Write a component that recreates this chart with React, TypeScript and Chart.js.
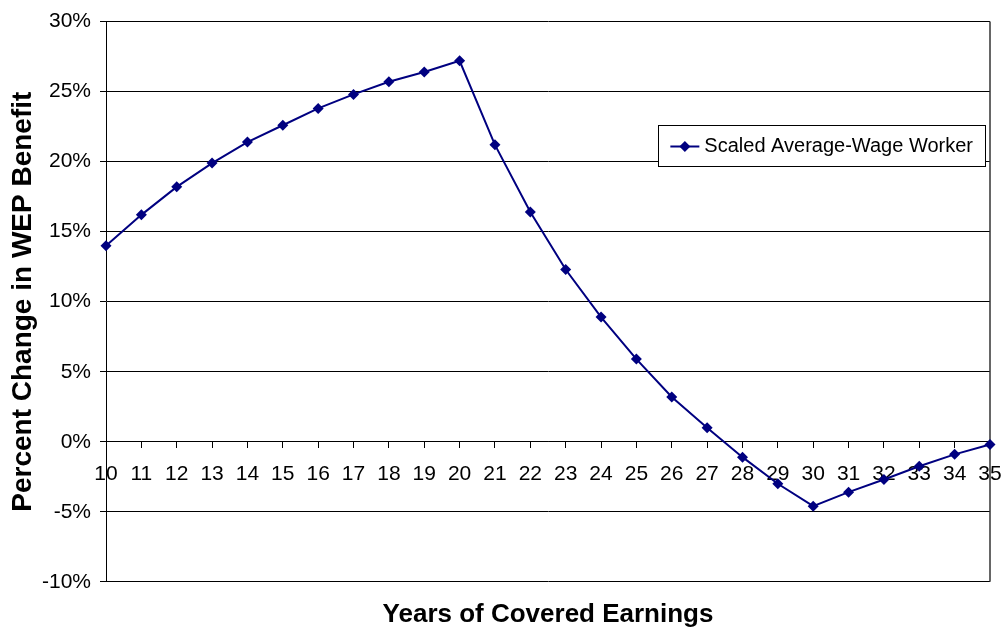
import React, { useEffect, useRef } from "react";
import { Chart, registerables } from "chart.js";

Chart.register(...registerables);

const years = [
  "10", "11", "12", "13", "14", "15", "16", "17", "18", "19", "20", "21", "22",
  "23", "24", "25", "26", "27", "28", "29", "30", "31", "32", "33", "34", "35",
];
const seriesLabel = "Scaled Average-Wage Worker";
const percentChange = [
  14.0, 16.2, 18.2, 19.9, 21.4, 22.6, 23.8, 24.8, 25.7, 26.4, 27.2, 21.2, 16.4,
  12.3, 8.9, 5.9, 3.2, 1.0, -1.1, -3.0, -4.6, -3.6, -2.7, -1.75, -0.9, -0.2,
];
const yMin = -10;
const yMax = 30;
const yStep = 5;
const yTitle = "Percent Change in WEP Benefit";
const xTitle = "Years of Covered Earnings";

const NAVY = "#000080";
const FONT = "'Liberation Sans', Arial, sans-serif";

const framePlugin = {
  id: "frameAndLegend",
  beforeDatasetsDraw(chart: any) {
    const { ctx, chartArea: a } = chart;
    ctx.save();
    ctx.strokeStyle = "#333";
    ctx.lineWidth = 1.5;
    ctx.beginPath();
    const x = Math.round(a.right);
    ctx.moveTo(x, a.top);
    ctx.lineTo(x, a.bottom);
    ctx.stroke();
    ctx.restore();
  },
  afterDraw(chart: any) {
    const { ctx, chartArea: a } = chart;
    const label = chart.data.datasets[0].label as string;
    ctx.save();
    ctx.font = `20px ${FONT}`;
    const tw = ctx.measureText(label).width;
    const boxW = 12 + 29 + 5 + tw + 12;
    const boxH = 41;
    const boxR = Math.round(a.right) - 5;
    const boxL = boxR - boxW;
    const boxT = Math.round(a.top) + 103;
    ctx.fillStyle = "#fff";
    ctx.fillRect(boxL, boxT, boxW, boxH);
    ctx.strokeStyle = "#000";
    ctx.lineWidth = 1;
    ctx.strokeRect(Math.round(boxL) + 0.5, boxT + 0.5, Math.round(boxW), boxH);
    const cy = boxT + boxH / 2 + 1;
    const lx = boxL + 12;
    ctx.strokeStyle = NAVY;
    ctx.lineWidth = 2;
    ctx.beginPath();
    ctx.moveTo(lx, cy);
    ctx.lineTo(lx + 29, cy);
    ctx.stroke();
    const dx = lx + 14.5;
    const r = 5.5;
    ctx.fillStyle = NAVY;
    ctx.beginPath();
    ctx.moveTo(dx, cy - r);
    ctx.lineTo(dx + r, cy);
    ctx.lineTo(dx, cy + r);
    ctx.lineTo(dx - r, cy);
    ctx.closePath();
    ctx.fill();
    ctx.fillStyle = "#000";
    ctx.textBaseline = "middle";
    ctx.textAlign = "left";
    ctx.fillText(label, lx + 29 + 5, cy);
    ctx.restore();
  },
};

export default function App() {
  const canvasRef = useRef<HTMLCanvasElement | null>(null);

  useEffect(() => {
    if (!canvasRef.current) return;
    Chart.defaults.font.family = FONT;
    const chart = new Chart(canvasRef.current, {
      type: "line",
      data: {
        labels: years,
        datasets: [
          {
            label: seriesLabel,
            data: percentChange,
            borderColor: NAVY,
            backgroundColor: NAVY,
            borderWidth: 2,
            tension: 0,
            pointStyle: "rectRot",
            pointRadius: 5.5,
            pointBorderWidth: 0,
            pointBackgroundColor: NAVY,
            clip: false as any,
          },
        ],
      },
      options: {
        animation: false,
        responsive: false,
        layout: { padding: { top: 18, right: 12, left: 0, bottom: 0 } },
        plugins: {
          legend: { display: false },
          tooltip: { enabled: false },
          title: {
            display: true,
            text: xTitle,
            position: "bottom",
            fullSize: false,
            color: "#000",
            font: { size: 26, weight: "bold", family: FONT },
            padding: { top: 17, bottom: 0 },
          },
        },
        scales: {
          x: {
            type: "category",
            offset: false,
            position: { y: 0 } as any,
            grid: {
              display: true,
              drawOnChartArea: false,
              drawTicks: true,
              tickLength: 6,
              color: "#000",
            },
            border: { display: true, color: "#000" },
            ticks: {
              color: "#000",
              font: { size: 21, family: FONT },
              padding: 14,
              autoSkip: false,
              maxRotation: 0,
            },
            afterFit: (scale: any) => {
              scale.paddingRight = 0;
              scale.paddingLeft = 0;
            },
          },
          y: {
            position: "left",
            min: yMin,
            max: yMax,
            grid: { color: "#000", tickLength: 6, drawTicks: true },
            border: { display: true, color: "#000" },
            ticks: {
              stepSize: yStep,
              color: "#000",
              font: { size: 21, family: FONT },
              padding: 9,
              callback: (v: any) => `${v}%`,
            },
            title: {
              display: true,
              text: yTitle,
              color: "#000",
              font: { size: 28, weight: "bold", family: FONT },
              padding: { top: 6, bottom: 0 },
            },
            afterFit: (scale: any) => {
              scale.width = 106;
            },
          },
        },
      },
      plugins: [framePlugin],
    });
    return () => chart.destroy();
  }, []);

  return (
    <div style={{ position: "fixed", left: 0, top: 0, width: 1002, height: 630, background: "#fff" }}>
      <canvas ref={canvasRef} width={1002} height={630} style={{ display: "block" }} />
    </div>
  );
}
